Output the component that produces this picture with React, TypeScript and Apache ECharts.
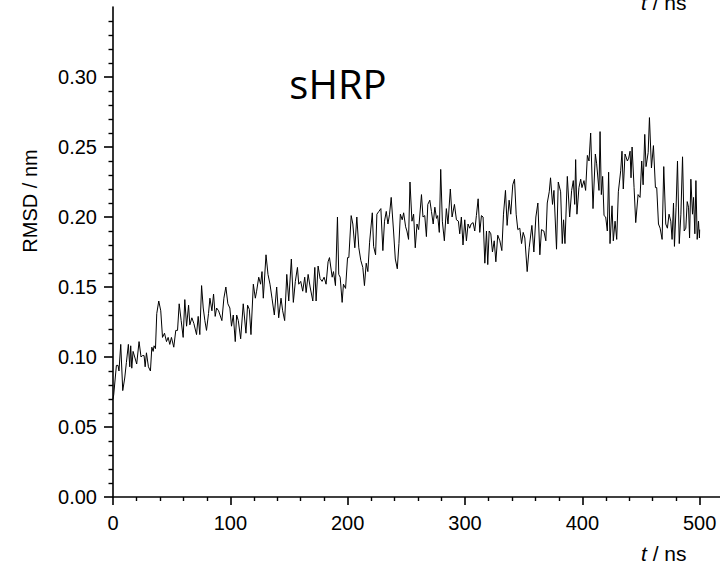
import React, { useEffect, useRef } from "react";
import * as echarts from "echarts";

// Time axis (ns) of the RMSD trace
const times: number[] = [
  0, 0.6, 2.9, 4.3, 5.1, 6.6, 8.3, 10.0, 11.4, 13.1, 14.3, 15.1, 16.0, 17.1, 18.5, 20.2, 22.2, 23.9, 25.1, 26.5,
  27.4, 28.5, 30.2, 31.9, 33.1, 34.2, 35.0, 36.2, 37.3, 39.0, 40.7, 42.2, 43.9, 45.6, 47.0, 48.4, 49.8, 51.8, 53.5, 55.0,
  56.4, 58.1, 59.8, 61.2, 62.7, 64.4, 65.5, 67.2, 68.9, 71.2, 72.6, 74.0, 75.5, 76.9, 78.3, 79.7, 81.4, 82.6, 84.3, 85.7,
  87.1, 88.3, 90.0,
  92.8, 94.5, 96.2, 97.9, 99.6, 101.0, 102.5, 104.2, 105.4, 106.8, 108.8, 111.0, 113.3, 114.7, 116.2, 117.6, 119.6, 121.3, 122.4, 124.2,
  125.8, 127.0, 128.1, 130.4, 132.1, 133.8, 135.5, 137.5, 139.5, 141.2, 143.2, 144.6, 146.3, 148.1, 149.8, 152.0, 153.7, 155.4, 157.2, 158.3,
  160.0, 161.7, 163.4, 164.6, 166.3, 168.0, 170.3, 172.0, 173.1, 174.8, 176.5, 178.2, 179.9, 181.6, 183.3, 184.5,
  186.8, 187.9, 189.6, 191.3, 192.4, 193.6, 195.3, 196.4, 198.2, 199.9, 201.0, 203.0, 204.4, 206.1, 207.8, 209.5, 211.2, 212.9, 214.3, 215.8,
  217.2, 218.7, 221.0, 222.1, 223.8, 224.9, 226.6, 228.3, 230.0, 231.4, 232.9, 234.3, 235.7, 237.1, 239.1, 240.6, 242.3, 243.7, 244.9, 246.5,
  247.7, 249.4, 250.5, 251.9, 253.1, 254.8, 256.2, 257.6, 259.1, 260.5, 262.9, 264.2, 265.7, 267.1, 268.3, 270.0, 271.4, 272.9, 274.3, 275.7,
  276.7, 278.1, 279.3,
  280.7, 282.4, 284.1, 285.5, 287.5, 289.0, 291.0, 292.7, 294.4, 295.5, 296.9, 298.3, 299.8, 301.2, 302.6, 304.0, 305.2, 306.9, 308.3, 309.7,
  311.2, 312.6, 314.0, 315.4, 316.9, 318.3, 319.4, 320.6, 322.0, 323.4, 324.9, 326.3, 327.9, 329.7, 331.4, 332.8, 334.5, 335.9, 337.6, 339.0,
  340.7, 342.2, 343.6, 345.0, 346.7, 348.2, 349.6, 351.0, 353.0, 354.7, 357.0, 358.7, 360.4, 362.1, 363.8, 365.2, 367.2, 368.9, 370.1, 371.8,
  372.9, 374.6, 375.8, 378.0, 379.5, 381.5,
  382.9, 384.0, 385.2, 387.2, 389.2, 390.9, 392.3, 393.5, 394.3, 395.4, 397.1, 398.6, 399.7, 401.4, 402.8, 404.3, 405.7, 407.1, 409.1, 411.1,
  412.2, 414.2, 415.1, 416.2, 417.3, 418.5, 419.9, 421.3, 422.4, 423.6, 425.3, 426.4, 427.9, 429.3, 430.7, 432.7, 433.8, 434.9, 436.4, 438.4,
  439.5, 440.7, 441.5, 442.4, 444.1, 445.5, 447.5, 449.2, 450.6, 451.8, 453.2, 454.3, 456.1, 457.2, 458.9, 460.6, 462.3, 463.4, 464.9, 466.3,
  468.0, 469.4, 471.1, 472.5, 473.9, 475.4, 476.5, 477.7, 478.5, 479.9, 481.1, 482.6, 484.0, 485.4, 486.8, 488.2, 489.4, 490.5, 491.4, 492.5,
  493.9, 494.8, 495.9, 496.8, 497.9, 499.0, 499.8, 500.0,
];

// RMSD values (nm), one per time above
const rmsd: number[] = [
  0.070, 0.073, 0.094, 0.094, 0.090, 0.109, 0.076, 0.085, 0.096, 0.109, 0.093, 0.108, 0.092, 0.104, 0.100, 0.095, 0.111, 0.100, 0.101, 0.101,
  0.093, 0.103, 0.093, 0.090, 0.107, 0.104, 0.108, 0.106, 0.131, 0.140, 0.133, 0.114, 0.117, 0.111, 0.114, 0.109, 0.114, 0.107, 0.119, 0.119,
  0.138, 0.126, 0.114, 0.141, 0.122, 0.137, 0.123, 0.128, 0.124, 0.116, 0.129, 0.116, 0.151, 0.135, 0.126, 0.119, 0.131, 0.142, 0.133, 0.145,
  0.129, 0.135, 0.133,
  0.126, 0.142, 0.150, 0.138, 0.135, 0.122, 0.130, 0.111, 0.130, 0.126, 0.113, 0.138, 0.117, 0.137, 0.134, 0.116, 0.152, 0.142, 0.147, 0.157,
  0.152, 0.161, 0.142, 0.173, 0.159, 0.152, 0.142, 0.130, 0.150, 0.128, 0.142, 0.133, 0.126, 0.159, 0.140, 0.170, 0.139, 0.154, 0.164, 0.152,
  0.154, 0.147, 0.157, 0.146, 0.159, 0.150, 0.140, 0.164, 0.140, 0.165, 0.156, 0.154, 0.157, 0.152, 0.168, 0.171,
  0.157, 0.161, 0.151, 0.200, 0.159, 0.157, 0.139, 0.152, 0.149, 0.171, 0.171, 0.201, 0.195, 0.178, 0.200, 0.178, 0.169, 0.164, 0.151, 0.167,
  0.161, 0.182, 0.203, 0.179, 0.173, 0.202, 0.204, 0.206, 0.176, 0.197, 0.204, 0.195, 0.202, 0.214, 0.190, 0.170, 0.163, 0.181, 0.202, 0.198,
  0.203, 0.193, 0.190, 0.184, 0.225, 0.197, 0.202, 0.178, 0.195, 0.191, 0.216, 0.200, 0.201, 0.186, 0.209, 0.212, 0.204, 0.195, 0.207, 0.199,
  0.201, 0.189, 0.234,
  0.197, 0.183, 0.206, 0.195, 0.220, 0.200, 0.209, 0.198, 0.197, 0.188, 0.200, 0.180, 0.198, 0.183, 0.195, 0.192, 0.195, 0.196, 0.190, 0.201,
  0.213, 0.189, 0.201, 0.200, 0.167, 0.190, 0.166, 0.190, 0.188, 0.175, 0.183, 0.168, 0.187, 0.183, 0.176, 0.202, 0.219, 0.194, 0.212, 0.202,
  0.223, 0.227, 0.202, 0.191, 0.192, 0.181, 0.189, 0.185, 0.161, 0.178, 0.194, 0.175, 0.200, 0.210, 0.173, 0.191, 0.190, 0.183, 0.210, 0.218,
  0.228, 0.209, 0.219, 0.177, 0.225, 0.218,
  0.181, 0.198, 0.181, 0.229, 0.200, 0.219, 0.226, 0.209, 0.241, 0.202, 0.221, 0.227, 0.221, 0.226, 0.219, 0.244, 0.240, 0.260, 0.206, 0.245,
  0.238, 0.219, 0.261, 0.216, 0.229, 0.201, 0.200, 0.190, 0.232, 0.181, 0.208, 0.183, 0.197, 0.184, 0.218, 0.233, 0.247, 0.220, 0.245, 0.240,
  0.242, 0.247, 0.228, 0.250, 0.221, 0.196, 0.216, 0.214, 0.240, 0.223, 0.259, 0.236, 0.246, 0.271, 0.235, 0.251, 0.221, 0.221, 0.195, 0.192,
  0.184, 0.236, 0.195, 0.192, 0.202, 0.197, 0.184, 0.210, 0.179, 0.207, 0.240, 0.181, 0.202, 0.243, 0.190, 0.192, 0.211, 0.207, 0.185, 0.227,
  0.202, 0.214, 0.188, 0.226, 0.184, 0.197, 0.185, 0.191,
];

const xTicks: number[] = [0, 100, 200, 300, 400, 500];
const yTicks: number[] = [0, 0.05, 0.1, 0.15, 0.2, 0.25, 0.3];

const chartTitle = "sHRP";
const yName = "RMSD / nm";
const xNameRich = "{i|t} / ns";

const FONT = '"Liberation Sans", Arial, sans-serif';

export default function App() {
  const ref = useRef<HTMLDivElement>(null);

  useEffect(() => {
    if (!ref.current) return;
    const chart = echarts.init(ref.current, null, { renderer: "svg" });
    const data = times.map((t, i) => [t, rmsd[i]]);

    const xNameStyle = {
      text: xNameRich,
      fontFamily: FONT,
      fontSize: 21,
      fill: "#000",
      align: "left",
      verticalAlign: "middle",
      rich: { i: { fontStyle: "italic", fontFamily: FONT, fontSize: 21, fill: "#000" } },
    };

    chart.setOption({
      animation: false,
      backgroundColor: "#ffffff",
      grid: {
        left: 113,
        right: -97,
        top: 7,
        bottom: 68,
        containLabel: false,
        outerBoundsMode: "none",
      },
      xAxis: {
        type: "value",
        min: 0,
        max: 600,
        interval: 100,
        splitLine: { show: false },
        axisLine: { show: true, onZero: false, lineStyle: { color: "#000", width: 1.6 } },
        axisTick: { show: true, inside: false, length: 8, customValues: xTicks, lineStyle: { color: "#000", width: 1.6 } },
        minorTick: { show: true, splitNumber: 5, length: 4, lineStyle: { color: "#000", width: 1.4 } },
        axisLabel: {
          customValues: xTicks,
          margin: 16,
          color: "#000",
          fontFamily: FONT,
          fontSize: 20,
          formatter: (v: number) => String(v),
        },
      },
      yAxis: {
        type: "value",
        min: 0,
        max: 0.35,
        interval: 0.05,
        splitLine: { show: false },
        axisLine: { show: true, onZero: false, lineStyle: { color: "#000", width: 1.6 } },
        axisTick: { show: true, inside: false, length: 9, customValues: yTicks, lineStyle: { color: "#000", width: 1.6 } },
        minorTick: { show: true, splitNumber: 5, length: 4.5, lineStyle: { color: "#000", width: 1.4 } },
        axisLabel: {
          customValues: yTicks,
          margin: 16,
          color: "#000",
          fontFamily: FONT,
          fontSize: 20,
          formatter: (v: number) => v.toFixed(2),
        },
      },
      series: [
        {
          type: "line",
          data,
          showSymbol: false,
          symbol: "none",
          lineStyle: { color: "#000", width: 1 },
          z: 3,
        },
      ],
      graphic: [
        {
          type: "text",
          x: 338,
          y: 83,
          style: {
            text: chartTitle,
            fontFamily: '"Open Sans", "Noto Sans", sans-serif',
            fontSize: 40,
            fill: "#000",
            align: "center",
            verticalAlign: "middle",
          },
        },
        {
          type: "text",
          x: 30,
          y: 201,
          rotation: Math.PI / 2,
          style: {
            text: yName,
            fontFamily: FONT,
            fontSize: 20,
            fill: "#000",
            align: "center",
            verticalAlign: "middle",
          },
        },
        { type: "text", x: 641, y: 553.5, style: xNameStyle },
        { type: "text", x: 641, y: 2.5, style: xNameStyle },
      ],
    });

    return () => chart.dispose();
  }, []);

  return (
    <div
      ref={ref}
      style={{ position: "absolute", left: 0, top: 0, width: 720, height: 565, background: "#fff" }}
    />
  );
}
